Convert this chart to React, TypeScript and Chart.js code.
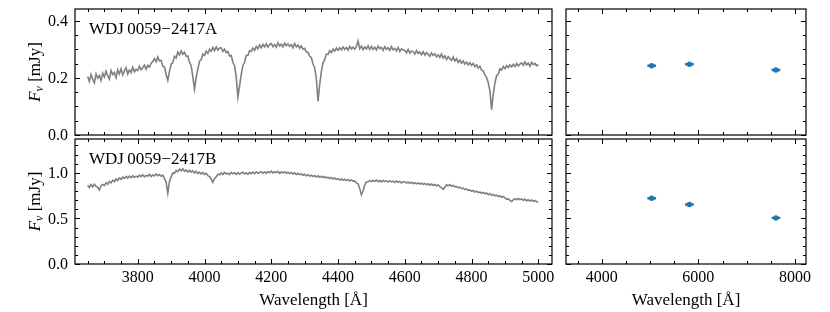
import React, { useEffect, useRef } from 'react';
import { Chart, registerables } from 'chart.js';

Chart.register(...registerables);

// ---------------- data ----------------
const WAVE_START = 3650; // Å, first spectral sample
const WAVE_STEP = 5; // Å, sampling of the spectra

const FLUX_A = [
  0.205, 0.188, 0.212, 0.196, 0.183, 0.214, 0.199, 0.209, 0.191, 0.217,
  0.203, 0.224, 0.208, 0.196, 0.226, 0.212, 0.219, 0.201, 0.229, 0.214,
  0.232, 0.211, 0.225, 0.236, 0.214, 0.228, 0.219, 0.238, 0.222, 0.230,
  0.226, 0.241, 0.229, 0.236, 0.245, 0.231, 0.244, 0.238, 0.252, 0.258,
  0.268, 0.257, 0.274, 0.260, 0.262, 0.241, 0.238, 0.212, 0.192, 0.222,
  0.249, 0.254, 0.276, 0.270, 0.291, 0.281, 0.295, 0.283, 0.290, 0.276,
  0.277, 0.255, 0.243, 0.205, 0.161, 0.201, 0.231, 0.259, 0.264, 0.284,
  0.279, 0.294, 0.286, 0.301, 0.294, 0.307, 0.296, 0.309, 0.298, 0.305,
  0.306, 0.293, 0.301, 0.289, 0.293, 0.277, 0.279, 0.255, 0.243, 0.202,
  0.133, 0.172, 0.212, 0.244, 0.255, 0.279, 0.280, 0.296, 0.293, 0.305,
  0.297, 0.311, 0.302, 0.316, 0.306, 0.318, 0.309, 0.320, 0.308, 0.317,
  0.321, 0.310, 0.318, 0.308, 0.323, 0.312, 0.319, 0.309, 0.322, 0.313,
  0.320, 0.311, 0.317, 0.306, 0.321, 0.309, 0.315, 0.304, 0.312, 0.301,
  0.304, 0.291, 0.290, 0.276, 0.272, 0.249, 0.236, 0.198, 0.118, 0.177,
  0.222, 0.253, 0.264, 0.284, 0.283, 0.296, 0.289, 0.301, 0.294, 0.305,
  0.297, 0.306, 0.299, 0.309, 0.300, 0.307, 0.298, 0.311, 0.302, 0.308,
  0.301, 0.310, 0.330, 0.303, 0.312, 0.299, 0.309, 0.302, 0.313, 0.300,
  0.311, 0.300, 0.308, 0.298, 0.312, 0.303, 0.307, 0.297, 0.310, 0.301,
  0.306, 0.297, 0.310, 0.299, 0.304, 0.295, 0.307, 0.293, 0.302, 0.298,
  0.297, 0.288, 0.300, 0.287, 0.295, 0.292, 0.284, 0.296, 0.286, 0.291,
  0.282, 0.292, 0.280, 0.289, 0.283, 0.276, 0.288, 0.279, 0.285, 0.274,
  0.281, 0.272, 0.284, 0.270, 0.278, 0.265, 0.275, 0.268, 0.262, 0.273,
  0.259, 0.268, 0.255, 0.263, 0.252, 0.260, 0.249, 0.256, 0.246, 0.254,
  0.244, 0.251, 0.240, 0.246, 0.235, 0.241, 0.227, 0.224, 0.211, 0.202,
  0.184, 0.155, 0.089, 0.143, 0.183, 0.208, 0.214, 0.232, 0.228, 0.240,
  0.233, 0.243, 0.236, 0.246, 0.239, 0.248, 0.240, 0.251, 0.242, 0.249,
  0.253, 0.244, 0.256, 0.246, 0.252, 0.241, 0.255, 0.247, 0.251, 0.243,
  0.248,
];

const FLUX_B = [
  0.862, 0.838, 0.871, 0.846, 0.874, 0.851, 0.839, 0.812, 0.858, 0.872,
  0.859, 0.891, 0.874, 0.905, 0.889, 0.919, 0.902, 0.931, 0.915, 0.944,
  0.928, 0.951, 0.937, 0.959, 0.941, 0.962, 0.945, 0.968, 0.949, 0.963,
  0.952, 0.974, 0.958, 0.979, 0.955, 0.971, 0.962, 0.983, 0.959, 0.976,
  0.964, 0.986, 0.968, 0.981, 0.962, 0.973, 0.938, 0.895, 0.776, 0.905,
  0.955, 0.998, 0.994, 1.026, 1.013, 1.041, 1.022, 1.044, 1.016, 1.031,
  1.009, 1.028, 1.006, 1.021, 0.998, 1.017, 0.992, 1.008, 0.985, 1.003,
  0.981, 0.994, 0.969, 0.958, 0.929, 0.897, 0.938, 0.954, 0.983, 0.977,
  0.998, 0.981, 1.003, 0.986, 0.996, 0.979, 1.004, 0.988, 0.999, 0.983,
  1.001, 0.985, 0.997, 1.006, 0.987, 0.999, 0.982, 1.004, 0.990, 1.008,
  0.991, 1.009, 0.994, 1.003, 1.012, 0.996, 1.010, 0.993, 1.014, 1.001,
  1.018, 0.997, 1.011, 1.002, 1.015, 0.993, 1.008, 0.999, 1.012, 0.995,
  1.006, 0.991, 1.003, 0.987, 0.998, 0.982, 0.994, 0.979, 0.988, 0.973,
  0.983, 0.967, 0.979, 0.962, 0.974, 0.958, 0.970, 0.953, 0.966, 0.951,
  0.961, 0.947, 0.958, 0.942, 0.952, 0.938, 0.949, 0.931, 0.943, 0.927,
  0.936, 0.921, 0.933, 0.918, 0.929, 0.914, 0.926, 0.910, 0.922, 0.908,
  0.911, 0.889, 0.879, 0.826, 0.758, 0.803, 0.866, 0.901, 0.899, 0.916,
  0.903, 0.917, 0.906, 0.921, 0.902, 0.914, 0.899, 0.918, 0.905, 0.912,
  0.898, 0.913, 0.900, 0.908, 0.893, 0.911, 0.896, 0.905, 0.889, 0.902,
  0.901, 0.887, 0.898, 0.884, 0.896, 0.880, 0.892, 0.878, 0.889, 0.876,
  0.886, 0.872, 0.883, 0.869, 0.880, 0.864, 0.877, 0.861, 0.871, 0.858,
  0.866, 0.849, 0.836, 0.818, 0.842, 0.868, 0.857, 0.871, 0.852, 0.861,
  0.846, 0.851, 0.835, 0.843, 0.826, 0.832, 0.815, 0.823, 0.806, 0.812,
  0.797, 0.806, 0.789, 0.798, 0.782, 0.791, 0.776, 0.785, 0.769, 0.778,
  0.760, 0.771, 0.754, 0.763, 0.747, 0.755, 0.739, 0.748, 0.731, 0.741,
  0.726, 0.709, 0.716, 0.696, 0.684, 0.702, 0.716, 0.703, 0.718, 0.705,
  0.713, 0.699, 0.709, 0.694, 0.704, 0.690, 0.701, 0.686, 0.697, 0.683,
  0.680,
];

const PHOT_WAVE = [5035, 5815, 7605];
const PHOT_WAVE_ERR = [90, 90, 90];
const PHOT_FLUX_A = [0.243, 0.248, 0.228];
const PHOT_FLUX_B = [0.72, 0.652, 0.505];

const SPEC_X_TICKS = [3800, 4000, 4200, 4400, 4600, 4800, 5000];
const PHOT_X_TICKS = [4000, 6000, 8000];
const Y_TICKS_A = [0.0, 0.2, 0.4];
const Y_TICKS_B = [0.0, 0.5, 1.0];

const LABEL_A = 'WDJ\u20090059\u22122417A';
const LABEL_B = 'WDJ\u20090059\u22122417B';
const X_TITLE = 'Wavelength [Å]';

// ---------------- styling ----------------
const SERIF = '"Liberation Serif", "Times New Roman", serif';
const SPEC_COLOR = '#808080';
const PHOT_COLOR = '#1f77b4';

type Panel = {
  pad: { left: number; top: number; right: number; bottom: number };
  xMin: number; xMax: number; yMin: number; yMax: number;
  xMajor: number[]; xMinorStep: number;
  yMajor: number[]; yMinorStep: number;
  xLabels: boolean; yLabels: boolean;
  title?: string;
  kind: 'spec' | 'phot';
  flux: number[];
};

const specPoints = (flux: number[]) =>
  flux.map((y, i) => ({ x: WAVE_START + i * WAVE_STEP, y }));

const photPoints = (flux: number[]) => PHOT_WAVE.map((x, i) => ({ x, y: flux[i] }));

function makePlugin(p: Panel) {
  return {
    id: 'mplFrame',
    beforeDatasetsDraw(chart: any) {
      if (p.kind !== 'phot') return;
      const { ctx, scales } = chart;
      ctx.save();
      ctx.strokeStyle = PHOT_COLOR;
      ctx.lineWidth = 2.4;
      ctx.beginPath();
      PHOT_WAVE.forEach((w, i) => {
        const y = scales.y.getPixelForValue(p.flux[i]);
        ctx.moveTo(scales.x.getPixelForValue(w - PHOT_WAVE_ERR[i]), y);
        ctx.lineTo(scales.x.getPixelForValue(w + PHOT_WAVE_ERR[i]), y);
      });
      ctx.stroke();
      ctx.restore();
    },
    afterDraw(chart: any) {
      const { ctx, chartArea: a, scales } = chart;
      const xs = scales.x, ys = scales.y;
      ctx.save();
      ctx.strokeStyle = '#000';
      ctx.lineWidth = 1;
      ctx.beginPath();
      const MAJ = 5, MIN = 3;
      const near = (v: number, arr: number[], tol: number) => arr.some((m) => Math.abs(m - v) < tol);
      const xStart = Math.ceil(p.xMin / p.xMinorStep) * p.xMinorStep;
      for (let v = xStart; v <= p.xMax + 1e-9; v += p.xMinorStep) {
        const len = near(v, p.xMajor, p.xMinorStep / 10) ? MAJ : MIN;
        const px = Math.round(xs.getPixelForValue(v)) + 0.5;
        ctx.moveTo(px, a.bottom); ctx.lineTo(px, a.bottom - len);
        ctx.moveTo(px, a.top); ctx.lineTo(px, a.top + len);
      }
      const yStart = Math.ceil(p.yMin / p.yMinorStep - 1e-9) * p.yMinorStep;
      for (let k = 0; yStart + k * p.yMinorStep <= p.yMax + 1e-9; k++) {
        const v = yStart + k * p.yMinorStep;
        const len = near(v, p.yMajor, p.yMinorStep / 10) ? MAJ : MIN;
        const py = Math.round(ys.getPixelForValue(v)) + 0.5;
        ctx.moveTo(a.left, py); ctx.lineTo(a.left + len, py);
        ctx.moveTo(a.right, py); ctx.lineTo(a.right - len, py);
      }
      ctx.stroke();
      ctx.lineWidth = 1.2;
      ctx.strokeRect(a.left, a.top, a.right - a.left, a.bottom - a.top);

      ctx.fillStyle = '#000';
      ctx.font = `16px ${SERIF}`;
      if (p.xLabels) {
        ctx.textAlign = 'center';
        ctx.textBaseline = 'alphabetic';
        p.xMajor.forEach((v) => ctx.fillText(String(v), xs.getPixelForValue(v), a.bottom + 18));
        ctx.font = `17px ${SERIF}`;
        ctx.fillText(X_TITLE, (a.left + a.right) / 2, a.bottom + 41);
      }
      if (p.yLabels) {
        ctx.font = `16px ${SERIF}`;
        ctx.textAlign = 'right';
        ctx.textBaseline = 'middle';
        p.yMajor.forEach((v) => ctx.fillText(v.toFixed(1), a.left - 7, ys.getPixelForValue(v) + 1));
        const cy = (a.top + a.bottom) / 2;
        ctx.save();
        ctx.translate(35, cy);
        ctx.rotate(-Math.PI / 2);
        const f1 = `italic 17px ${SERIF}`, f2 = `italic 12px ${SERIF}`, f3 = `17px ${SERIF}`;
        ctx.font = f1; const w1 = ctx.measureText('F').width;
        ctx.font = f2; const w2 = ctx.measureText('\u03bd').width;
        ctx.font = f3; const w3 = ctx.measureText(' [mJy]').width;
        let x = -(w1 + w2 + w3) / 2;
        ctx.textAlign = 'left';
        ctx.textBaseline = 'alphabetic';
        ctx.font = f1; ctx.fillText('F', x, 5); x += w1;
        ctx.font = f2; ctx.fillText('\u03bd', x, 8); x += w2;
        ctx.font = f3; ctx.fillText(' [mJy]', x, 5);
        ctx.restore();
      }
      if (p.title) {
        ctx.font = `17px ${SERIF}`;
        ctx.textAlign = 'left';
        ctx.textBaseline = 'alphabetic';
        ctx.fillText(p.title, a.left + 14, a.top + 25);
      }
      ctx.restore();
    },
  };
}

const PANELS: Panel[] = [
  {
    pad: { left: 75, top: 9, right: 278, bottom: 177 },
    xMin: 3612, xMax: 5041, yMin: 0, yMax: 0.442,
    xMajor: SPEC_X_TICKS, xMinorStep: 50, yMajor: Y_TICKS_A, yMinorStep: 0.05,
    xLabels: false, yLabels: true, title: LABEL_A, kind: 'spec', flux: FLUX_A,
  },
  {
    pad: { left: 75, top: 139, right: 278, bottom: 48 },
    xMin: 3612, xMax: 5041, yMin: 0, yMax: 1.37,
    xMajor: SPEC_X_TICKS, xMinorStep: 50, yMajor: Y_TICKS_B, yMinorStep: 0.1,
    xLabels: true, yLabels: true, title: LABEL_B, kind: 'spec', flux: FLUX_B,
  },
  {
    pad: { left: 566, top: 9, right: 24, bottom: 177 },
    xMin: 3262, xMax: 8227, yMin: 0, yMax: 0.442,
    xMajor: PHOT_X_TICKS, xMinorStep: 500, yMajor: Y_TICKS_A, yMinorStep: 0.05,
    xLabels: false, yLabels: false, kind: 'phot', flux: PHOT_FLUX_A,
  },
  {
    pad: { left: 566, top: 139, right: 24, bottom: 48 },
    xMin: 3262, xMax: 8227, yMin: 0, yMax: 1.37,
    xMajor: PHOT_X_TICKS, xMinorStep: 500, yMajor: Y_TICKS_B, yMinorStep: 0.1,
    xLabels: true, yLabels: false, kind: 'phot', flux: PHOT_FLUX_B,
  },
];

function PanelChart({ panel }: { panel: Panel }) {
  const ref = useRef<HTMLCanvasElement | null>(null);
  useEffect(() => {
    if (!ref.current) return;
    const dataset: any =
      panel.kind === 'spec'
        ? {
            type: 'line',
            data: specPoints(panel.flux),
            borderColor: SPEC_COLOR,
            borderWidth: 1.6,
            pointRadius: 0,
            tension: 0,
            fill: false,
          }
        : {
            type: 'scatter',
            data: photPoints(panel.flux),
            backgroundColor: PHOT_COLOR,
            borderColor: PHOT_COLOR,
            borderWidth: 0,
            pointRadius: 2.7,
          };
    const chart = new Chart(ref.current, {
      type: panel.kind === 'spec' ? 'line' : 'scatter',
      data: { datasets: [dataset] },
      options: {
        animation: false,
        responsive: false,
        devicePixelRatio: 1,
        events: [],
        layout: { padding: panel.pad },
        scales: {
          x: { type: 'linear', display: false, min: panel.xMin, max: panel.xMax },
          y: { type: 'linear', display: false, min: panel.yMin, max: panel.yMax },
        },
        plugins: { legend: { display: false }, tooltip: { enabled: false } },
      } as any,
      plugins: [makePlugin(panel) as any],
    });
    return () => chart.destroy();
  }, [panel]);
  return (
    <canvas
      ref={ref}
      width={830}
      height={312}
      style={{ position: 'absolute', left: 0, top: 0 }}
    />
  );
}

export default function App() {
  return (
    <div style={{ position: 'fixed', left: 0, top: 0, width: 830, height: 312, background: '#fff' }}>
      {PANELS.map((p, i) => (
        <PanelChart key={i} panel={p} />
      ))}
    </div>
  );
}
